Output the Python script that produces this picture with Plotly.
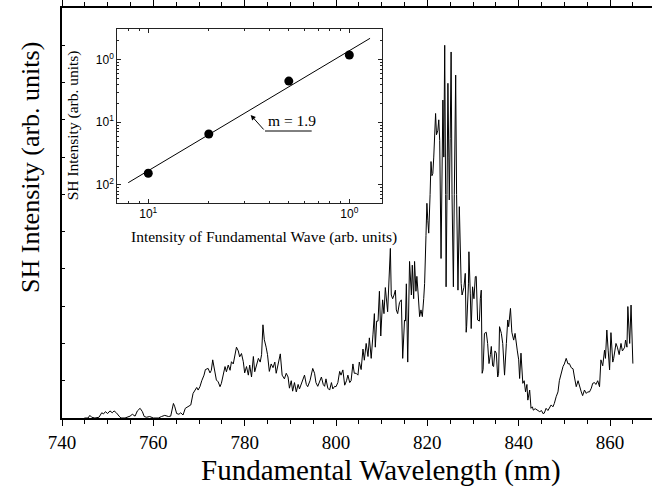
import plotly.graph_objects as go

# ---- main spectrum ----
wavelength_nm = [
    744.9, 745.7, 746.1, 746.5, 747.2, 748.1, 748.7, 749.1, 749.5, 750.0,
    750.5, 751.0, 751.4, 751.9, 752.5, 752.9, 753.8, 754.9, 755.4, 756.0,
    756.5, 757.1, 757.6, 758.0, 758.5, 759.2, 760.0, 761.1, 761.8, 762.5,
    763.3, 763.8, 764.4, 764.7, 765.1, 765.6, 766.0, 766.5, 767.0, 767.6,
    768.2, 768.7, 769.1, 769.5, 769.8, 770.2, 770.6, 771.1, 771.4, 772.0,
    772.4, 772.7, 773.0, 773.5, 773.8, 774.2, 774.6, 774.9, 775.3, 775.7,
    776.0, 776.4, 776.8, 777.1, 777.5, 777.9, 778.2, 778.6, 778.9, 779.3,
    779.7, 780.0, 780.4, 780.8, 781.1, 781.5, 781.9, 782.2, 782.6, 783.0,
    783.4, 783.7, 784.0, 784.3, 784.7, 785.0, 785.4, 785.8, 786.2, 786.6,
    786.9, 787.3, 787.8, 788.2, 788.7, 789.1, 789.5, 789.8, 790.2, 790.5,
    790.9, 791.3, 791.7, 792.0, 792.5, 793.1, 793.5, 793.8, 794.3, 794.9,
    795.3, 795.6, 796.0, 796.4, 796.8, 797.2, 797.5, 797.8, 798.2, 798.6,
    799.0, 799.3, 799.7, 800.0, 800.4, 800.8, 801.1, 801.5, 801.9, 802.3,
    802.6, 803.0, 803.3, 803.7, 804.0, 804.4, 804.8, 805.1, 805.5, 805.9,
    806.2, 806.6, 807.0, 807.3, 807.7, 808.1, 808.4, 808.6, 808.9, 809.2,
    809.5, 809.8, 810.2, 810.5, 810.8, 811.3, 811.6, 811.9, 812.1, 812.4,
    812.7, 813.0, 813.2, 813.5, 813.9, 814.3, 814.6, 814.8, 815.0, 815.2,
    815.4, 815.7, 816.1, 816.5, 816.7, 817.0, 817.2, 817.5, 817.7, 818.0,
    818.3, 818.6, 818.9, 819.2, 819.4, 819.7, 819.9, 820.1, 820.3, 820.6,
    820.8, 821.0, 821.2, 821.4, 821.8, 822.0, 822.3, 822.5, 822.7, 823.0,
    823.2, 823.4, 823.6, 823.8, 824.0, 824.1, 824.3, 824.5, 824.7, 824.8,
    825.0, 825.2, 825.4, 825.7, 825.9, 826.2, 826.4, 826.7, 827.0, 827.2,
    827.4, 827.6, 827.8, 828.0, 828.3, 828.5, 828.6, 829.0, 829.1, 829.4,
    829.6, 829.9, 830.2, 830.5, 830.7, 831.0, 831.4, 831.6, 831.8, 832.0,
    832.2, 832.5, 832.9, 833.2, 833.5, 833.8, 834.0, 834.3, 834.5, 834.8,
    835.1, 835.4, 835.6, 835.8, 836.2, 836.5, 836.9, 837.3, 837.6, 837.8,
    838.2, 838.5, 838.9, 839.2, 839.4, 839.7, 840.0, 840.2, 840.5, 840.9,
    841.2, 841.5, 841.8, 842.0, 842.4, 842.7, 843.0, 843.2, 843.6, 844.2,
    844.6, 845.0, 845.3, 845.6, 846.0, 846.4, 846.8, 847.1, 847.5, 847.8,
    848.2, 848.6, 848.9, 849.3, 849.7, 850.0, 850.4, 850.8, 851.1, 851.5,
    851.9, 852.2, 852.6, 853.0, 853.3, 853.7, 854.0, 854.4, 854.8, 855.1,
    855.5, 855.9, 856.2, 856.6, 856.9, 857.3, 857.7, 858.0, 858.4, 858.8,
    859.0, 859.3, 859.6, 859.9, 860.2, 860.6, 860.8, 861.3, 861.6, 862.0,
    862.4, 862.7, 862.9, 863.2, 863.4, 863.7, 863.9, 864.1, 864.3, 864.6,
    864.8, 865.0,
]
sh_intensity = [
    0.00, 0.00, 0.07, 0.02, 0.00, 0.02, 0.14, 0.11, 0.17, 0.12,
    0.19, 0.14, 0.19, 0.14, 0.05, 0.00, 0.00, 0.05, 0.10, 0.05,
    0.19, 0.26, 0.17, 0.04, 0.02, 0.04, 0.00, 0.00, 0.04, 0.07,
    0.04, 0.05, 0.39, 0.30, 0.12, 0.10, 0.14, 0.08, 0.26, 0.30,
    0.35, 0.66, 0.75, 0.82, 0.75, 0.84, 1.00, 1.15, 1.30, 1.33,
    1.21, 1.28, 1.56, 1.20, 1.02, 0.97, 0.84, 0.93, 1.20, 1.38,
    1.24, 1.42, 1.28, 1.51, 1.45, 1.66, 1.90, 1.80, 1.64, 1.73,
    1.51, 1.21, 1.38, 1.15, 1.42, 1.10, 1.65, 1.24, 1.40, 1.60,
    1.50, 1.70, 2.50, 2.10, 1.90, 1.70, 1.25, 1.45, 1.35, 1.50,
    1.20, 1.40, 1.72, 1.15, 1.05, 1.20, 1.10, 0.80, 1.00, 0.72,
    0.95, 0.70, 0.90, 0.78, 0.95, 1.15, 0.90, 0.84, 1.00, 1.33,
    1.20, 0.95, 0.85, 1.00, 1.10, 0.90, 0.85, 1.05, 0.80, 0.75,
    0.95, 0.78, 0.85, 0.84, 0.95, 1.25, 1.15, 1.29, 0.88, 1.00,
    1.15, 0.95, 1.00, 1.45, 1.20, 1.20, 1.15, 1.50, 1.30, 1.85,
    1.55, 2.00, 1.65, 2.15, 1.60, 2.25, 2.80, 1.90, 2.60, 2.60,
    3.40, 2.20, 3.17, 2.80, 3.50, 2.85, 3.70, 4.55, 3.30, 3.20,
    3.30, 3.43, 2.90, 2.80, 3.10, 3.17, 1.60, 2.10, 2.63, 2.60,
    3.60, 1.50, 4.20, 3.30, 4.10, 3.20, 4.20, 3.40, 3.80, 3.30,
    2.72, 2.90, 2.72, 3.20, 3.61, 4.90, 5.76, 5.30, 4.96, 6.00,
    6.88, 6.50, 6.56, 7.00, 8.17, 7.60, 7.72, 8.00, 7.45, 4.28,
    6.50, 8.53, 7.00, 10.00, 6.00, 3.52, 6.00, 8.98, 7.00, 5.85,
    7.50, 9.82, 6.00, 3.52, 6.00, 9.20, 6.00, 3.43, 5.67, 4.00,
    3.61, 3.30, 3.43, 3.50, 3.88, 2.30, 2.45, 3.60, 4.46, 3.35,
    2.40, 3.52, 3.20, 3.79, 3.80, 2.63, 2.60, 3.20, 3.43, 1.20,
    1.30, 2.27, 2.30, 2.00, 1.46, 1.70, 1.92, 1.40, 1.38, 1.80,
    1.74, 1.10, 1.20, 2.45, 2.27, 2.00, 1.15, 2.00, 2.63, 2.45,
    2.94, 2.30, 2.09, 2.27, 2.00, 1.80, 1.56, 1.06, 1.74, 0.93,
    1.00, 0.70, 0.90, 0.48, 0.75, 0.26, 0.30, 0.21, 0.25, 0.21,
    0.17, 0.20, 0.12, 0.13, 0.26, 0.20, 0.30, 0.35, 0.30, 0.39,
    0.57, 0.70, 1.00, 1.20, 1.38, 1.45, 1.60, 1.45, 1.46, 1.35,
    1.32, 1.10, 0.84, 1.00, 0.84, 0.70, 0.60, 0.75, 0.66, 0.70,
    0.70, 0.80, 0.93, 0.95, 0.90, 1.00, 0.84, 1.56, 1.40, 1.82,
    1.60, 2.36, 1.80, 1.29, 2.29, 1.50, 1.60, 2.00, 1.90, 1.70,
    2.00, 1.80, 1.83, 1.90, 2.09, 1.90, 2.99, 2.20, 2.00, 3.03,
    2.20, 1.46,
]
x_ticks = [740, 760, 780, 800, 820, 840, 860]

# ---- inset: power dependence ----
fund_intensity = [0.1, 0.2, 0.5, 1.0]
sh_inset = [0.01535, 0.0648, 0.45, 1.17]
fit_x = [0.0795, 1.268]
fit_y = [0.01088, 2.16]
inset_x_ticks = [0.1, 1.0]
inset_x_text = ["10<sup>1</sup>", "10<sup>0</sup>"]
inset_y_ticks = [0.01, 0.1, 1.0]
inset_y_text = ["10<sup>2</sup>", "10<sup>1</sup>", "10<sup>0</sup>"]
inset_x_minor = [0.08, 0.09, 0.2, 0.3, 0.4, 0.5, 0.6, 0.7, 0.8, 0.9]
inset_y_minor = [0.006, 0.007, 0.008, 0.009, 0.02, 0.03, 0.04, 0.05, 0.06,
                 0.07, 0.08, 0.09, 0.2, 0.3, 0.4, 0.5, 0.6, 0.7, 0.8, 0.9, 2, 3]

SERIF = "Liberation Serif, Times New Roman, serif"
SANS = "Liberation Sans, Arial, sans-serif"

W, H = 652, 491
L, R, T, B = 62, 0, 8, 73
PW, PH = W - L - R, H - T - B


def px(x):
    return (x - L) / PW


def py(y):
    return (H - B - y) / PH


fig = go.Figure()
fig.add_trace(go.Scatter(x=wavelength_nm, y=sh_intensity, mode="lines",
                         line=dict(color="black", width=1), xaxis="x", yaxis="y",
                         showlegend=False, hoverinfo="skip"))
fig.add_trace(go.Scatter(x=fit_x, y=fit_y, mode="lines",
                         line=dict(color="black", width=1), xaxis="x2", yaxis="y2",
                         showlegend=False))
fig.add_trace(go.Scatter(x=fund_intensity, y=sh_inset, mode="markers",
                         marker=dict(color="black", size=9), xaxis="x2", yaxis="y2",
                         showlegend=False))

fig.update_layout(
    width=W, height=H,
    margin=dict(l=L, r=R, t=T, b=B),
    paper_bgcolor="white", plot_bgcolor="white",
    font=dict(family=SERIF, color="black"),
    xaxis=dict(
        range=[740, 740 + PW / 4.567], domain=[0, 1],
        tickmode="array", tickvals=x_ticks,
        ticks="outside", ticklen=6, tickwidth=1.2, tickcolor="black",
        minor=dict(ticks="outside", ticklen=4, dtick=5, tick0=740, tickcolor="black", tickwidth=1),
        showline=True, linecolor="black", linewidth=1.6, mirror="ticks",
        showgrid=False, zeroline=False,
        tickfont=dict(family=SERIF, size=19, color="black"),
    ),
    yaxis=dict(
        range=[0, 11], domain=[0, 1], dtick=1, tick0=0,
        ticks="inside", ticklen=3, tickcolor="black",
        showticklabels=False, showline=True, linecolor="black", linewidth=1.6,
        showgrid=False, zeroline=False,
    ),
    xaxis2=dict(
        type="log", anchor="y2",
        domain=[px(117.3), px(381.7)], range=[-1.154, 0.161],
        tickmode="array", tickvals=inset_x_ticks, ticktext=inset_x_text,
        ticks="inside", ticklen=4, tickcolor="#222",
        minor=dict(ticks="inside", ticklen=2, tickmode="array", tickvals=inset_x_minor, tickcolor="#222"),
        showline=True, linecolor="#222", linewidth=1, mirror="ticks",
        showgrid=False, zeroline=False,
        tickfont=dict(family=SANS, size=12, color="black"),
    ),
    yaxis2=dict(
        type="log", anchor="x2",
        domain=[py(202.7), py(29.3)], range=[-2.282, 0.478],
        tickmode="array", tickvals=inset_y_ticks, ticktext=inset_y_text,
        ticks="inside", ticklen=4, tickcolor="#222",
        minor=dict(ticks="inside", ticklen=2, tickmode="array", tickvals=inset_y_minor, tickcolor="#222"),
        showline=True, linecolor="#222", linewidth=1, mirror="ticks",
        showgrid=False, zeroline=False,
        tickfont=dict(family=SANS, size=12, color="black"),
    ),
)

annotations = [
    dict(text="Fundamental Wavelength (nm)", x=px(381), y=py(470), xref="paper", yref="paper",
         showarrow=False, font=dict(family=SERIF, size=29, color="black"),
         xanchor="center", yanchor="middle"),
    dict(text="SH Intensity (arb. units)", x=px(30), y=py(168), xref="paper", yref="paper",
         showarrow=False, textangle=-90, font=dict(family=SERIF, size=26, color="black"),
         xanchor="center", yanchor="middle"),
    dict(text="SH Intensity (arb. units)", x=px(73.3), y=py(125), xref="paper", yref="paper",
         showarrow=False, textangle=-90, font=dict(family=SERIF, size=15.5, color="black"),
         xanchor="center", yanchor="middle"),
    dict(text="Intensity of Fundamental Wave (arb. units)", x=px(264), y=py(237),
         xref="paper", yref="paper", showarrow=False,
         font=dict(family=SERIF, size=15.5, color="black"), xanchor="center", yanchor="middle"),
    dict(text="m = 1.9", x=px(291.7), y=py(120), xref="paper", yref="paper",
         showarrow=False, font=dict(family=SERIF, size=15.5, color="black"),
         xanchor="center", yanchor="middle"),
    dict(text="", x=px(250.7), y=py(115), xref="paper", yref="paper",
         showarrow=True, ax=14.3, ay=16, arrowhead=2, arrowsize=1, arrowwidth=1,
         arrowcolor="black"),
]
fig.update_layout(annotations=annotations)
fig.add_shape(type="line", xref="paper", yref="paper",
              x0=px(265), x1=px(311.7), y0=py(131), y1=py(131),
              line=dict(color="black", width=1))

fig.write_html(
    "out.html",
    config={"displayModeBar": False},
    post_script="document.body.style.margin='0';document.body.style.padding='0';"
                "document.body.style.overflow='hidden';",
)
